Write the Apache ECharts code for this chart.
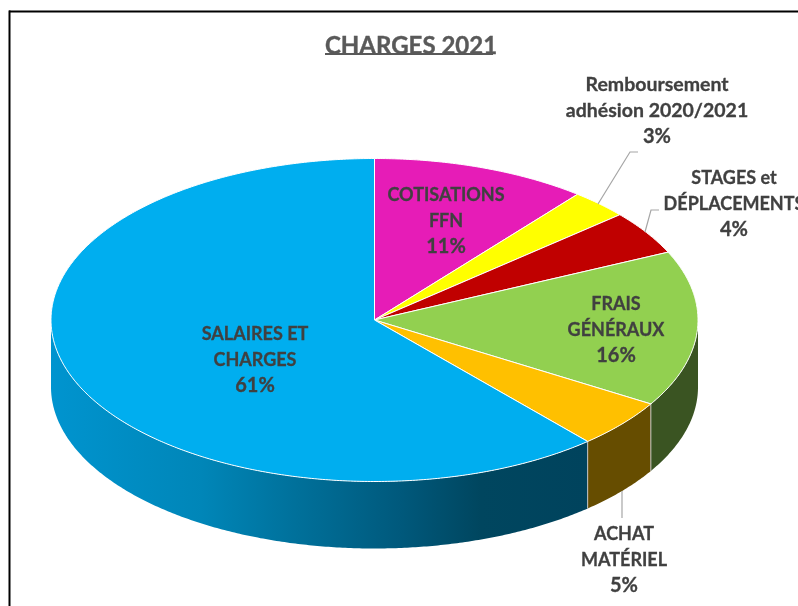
<!DOCTYPE html>
<html><head><meta charset="utf-8">
<style>html,body{margin:0;padding:0;background:#fff}#c{width:798px;height:606px}</style>
<script src="https://cdn.jsdelivr.net/npm/echarts@6/dist/echarts.min.js"></script>
</head><body><div id="c"></div>
<script>
// Data
const categories = ["COTISATIONS\nFFN","Remboursement\nadhésion 2020/2021","STAGES et\nDÉPLACEMENTS","FRAIS\nGÉNÉRAUX","ACHAT\nMATÉRIEL","SALAIRES ET\nCHARGES"];
const values = [10.8,2.9,4.4,15.6,4.85,61.45];
const topColors = ["#E61CB7","#FFFF00","#C00000","#92D050","#FFC000","#00AEEF"];
const titleText = "CHARGES 2021";

// Layout and styling
const CX=374.5, CY=320, RX=323.5, RY=161.5, DEPTH=67;
const labelPos = [[446,221],[657,111],[734,204],[616,330],[624,560],[255,360]];
const labelSize = [18,19.5,18,18,18,18];
const leaders = [null,[[598,204],[630,152],[638,152]],[[645,232],[651,210],[659,210]],null,[[622,491],[622,518]],null];
const blueSide = {type:'linear',x:51,y:0,x2:588,y2:0,global:true,colorStops:[
  {offset:0,color:'#0094cf'},{offset:0.28,color:'#0086b8'},{offset:0.46,color:'#00709a'},
  {offset:0.65,color:'#00597c'},{offset:0.80,color:'#00465f'},{offset:1,color:'#00435d'}]};
const sideColors = ['#000','#000','#000','#3A5422','#664D00',blueSide];

const total = values.reduce((a,b)=>a+b,0);
let run = 0;
const rows = values.map(v=>{const r=[run,v];run+=v;return r;});
const pt=(deg,dy)=>{const t=deg*Math.PI/180;return [CX+RX*Math.sin(t),CY-RY*Math.cos(t)+(dy||0)];};
const arc=(a,b,dy)=>{const out=[];const n=Math.max(2,Math.ceil((b-a)*2));for(let i=0;i<=n;i++)out.push(pt(a+(b-a)*i/n,dy));return out;};

function renderItem(params,api){
  const i=params.dataIndex;
  const a0=api.value(0)/total*360, a1=(api.value(0)+api.value(1))/total*360;
  const children=[];
  const s0=Math.max(a0,90), s1=Math.min(a1,270);
  if(s1>s0){
    children.push({type:'polygon',silent:true,shape:{points:arc(s0,s1,0).concat(arc(s0,s1,DEPTH).reverse())},
      style:{fill:sideColors[i],stroke:null}});
    if(a0>90&&a0<270){const p=pt(a0,0);
      children.push({type:'line',silent:true,shape:{x1:p[0],y1:p[1],x2:p[0],y2:p[1]+DEPTH},style:{stroke:'#c4c4c4',lineWidth:1}});}
  }
  children.push({type:'polygon',silent:true,shape:{points:[[CX,CY]].concat(arc(a0,a1,0))},
    style:{fill:topColors[i],stroke:'#fff',lineWidth:1,lineJoin:'round'}});
  if(leaders[i]) children.push({type:'polyline',silent:true,shape:{points:leaders[i]},style:{fill:null,stroke:'#a6a6a6',lineWidth:1.2}});
  const nameLines=categories[i].split("\n").map(s=>"{n|"+s+"}").join("\n");
  const base={fill:'#404040',stroke:'#404040',lineWidth:0.3,fontFamily:'Lato',fontWeight:'bold',lineHeight:26};
  children.push({type:'text',silent:true,x:labelPos[i][0],y:labelPos[i][1],z2:10,
    style:{text:nameLines+"\n{p|"+Math.round(api.value(1))+"%}",align:'center',verticalAlign:'middle',
      rich:{n:Object.assign({},base,{fontSize:labelSize[i]}),p:Object.assign({},base,{fontSize:20})}}});
  return {type:'group',children};
}

const chart=echarts.init(document.getElementById('c'),null,{renderer:'canvas'});
chart.setOption({
  animation:false,
  backgroundColor:'#fff',
  title:{text:titleText,left:406,top:29,textAlign:'center',textStyle:{fontFamily:'Lato',fontWeight:'bold',fontSize:24,color:'#595959',textBorderColor:'#595959',textBorderWidth:0.4}},
  graphic:[
    {type:'rect',silent:true,shape:{x:325,y:53,width:168,height:2},style:{fill:'#595959'}},
    {type:'rect',silent:true,shape:{x:9,y:10.5,width:789,height:2},style:{fill:'#000'}},
    {type:'rect',silent:true,shape:{x:8.5,y:10.5,width:2,height:596},style:{fill:'#000'}}
  ],
  series:[{type:'custom',coordinateSystem:'none',renderItem,data:rows,clip:false}]
});
</script></body></html>
